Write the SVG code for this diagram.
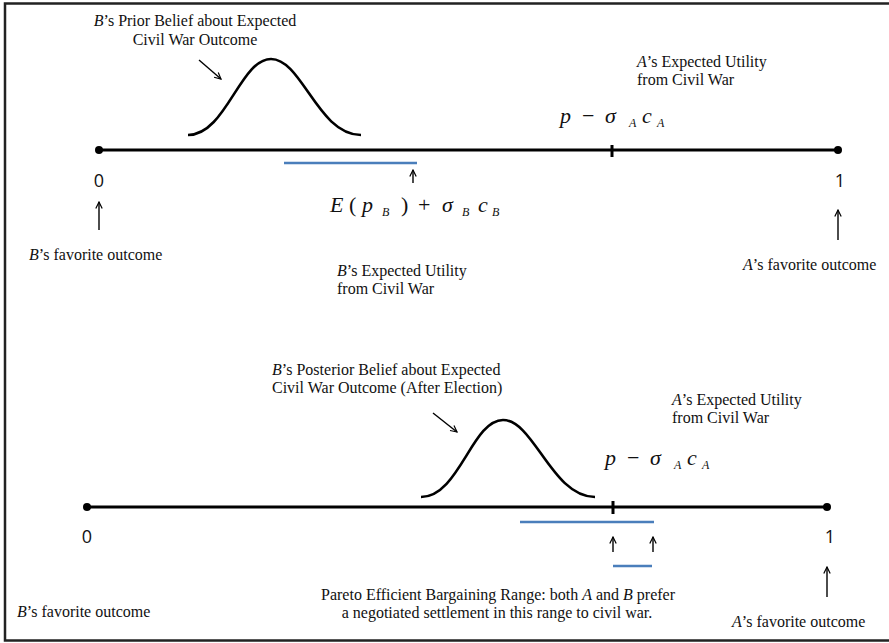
<svg xmlns="http://www.w3.org/2000/svg" width="889" height="643" viewBox="0 0 889 643">
<defs>
<style>
.t{font-family:"Liberation Serif","Times New Roman",Tinos,"DejaVu Serif","Noto Serif",serif;font-size:16px;fill:#111}
.i{font-style:italic}
.m{font-family:"Liberation Serif","Times New Roman",Tinos,"DejaVu Serif","Noto Serif",serif;font-style:italic;font-size:22px;fill:#111}
.s{font-size:12px}
.num{font-family:"Open Sans","Liberation Sans",sans-serif;font-size:18px;fill:#111;text-anchor:middle}
.ax{stroke:#000;stroke-width:3;fill:none}
.cv{stroke:#000;stroke-width:2.6;fill:none}
.bl{stroke:#4a7ebb;stroke-width:2.5;fill:none}
.ar{stroke:#000;stroke-width:1.4;fill:none;marker-end:url(#ah)}
</style>
<marker id="ah" viewBox="0 0 10 10" refX="9" refY="5" markerWidth="8" markerHeight="8" orient="auto" markerUnits="userSpaceOnUse">
<path d="M1,1 L9,5 L1,9" fill="none" stroke="#000" stroke-width="1.5"/>
</marker>
</defs>
<rect x="0" y="0" width="889" height="643" fill="#fff"/>
<rect x="5" y="3.5" width="900" height="637" fill="none" stroke="#222" stroke-width="2.5"/>

<g id="top-axis">
<line class="ax" x1="99" y1="150" x2="838" y2="150"/>
<circle cx="99" cy="150" r="4"/>
<circle cx="838" cy="150" r="4"/>
<line x1="612" y1="145" x2="612" y2="157" stroke="#000" stroke-width="3"/>
<text class="num" x="99" y="187">0</text>
<text class="num" x="840" y="187">1</text>
</g>

<g id="prior-curve">
<path class="cv" d="M188,135 C226,135 240,59 271,59 C302,59 318,135 361,135"/>
<text class="t" x="195" y="26" text-anchor="middle"><tspan class="i">B</tspan>’s Prior Belief about Expected</text>
<text class="t" x="195" y="45" text-anchor="middle">Civil War Outcome</text>
</g>

<g id="top-A-utility">
<text class="t" x="637" y="67"><tspan class="i">A</tspan>’s Expected Utility</text>
<text class="t" x="637" y="85">from Civil War</text>
<text class="m" y="123"><tspan x="560">p</tspan><tspan x="582" font-style="normal">−</tspan><tspan x="605">σ</tspan><tspan class="s" x="629" dy="4">A</tspan><tspan x="642" dy="-4">c</tspan><tspan class="s" x="657" dy="4">A</tspan></text>
</g>

<g id="top-B-utility">
<line class="bl" x1="284" y1="163" x2="417" y2="163"/>
<text class="m" y="212"><tspan x="330">E</tspan><tspan x="349" font-style="normal">(</tspan><tspan x="362">p</tspan><tspan class="s" x="382" dy="4">B</tspan><tspan x="401" dy="-4" font-style="normal">)</tspan><tspan x="418" font-style="normal">+</tspan><tspan x="442">σ</tspan><tspan class="s" x="462" dy="4">B</tspan><tspan x="478" dy="-4">c</tspan><tspan class="s" x="492" dy="4">B</tspan></text>
<text class="t" x="337" y="276"><tspan class="i">B</tspan>’s Expected Utility</text>
<text class="t" x="337" y="294">from Civil War</text>
</g>

<g id="top-B-fav">
<text class="t" x="29" y="260"><tspan class="i">B</tspan>’s favorite outcome</text>
</g>
<g id="top-A-fav">
<text class="t" x="743" y="270"><tspan class="i">A</tspan>’s favorite outcome</text>
</g>

<g id="bottom-axis">
<line class="ax" x1="87" y1="507" x2="827" y2="507"/>
<circle cx="87" cy="507" r="4"/>
<circle cx="827" cy="507" r="4"/>
<line x1="613" y1="501" x2="613" y2="514" stroke="#000" stroke-width="3"/>
<text class="num" x="87" y="543">0</text>
<text class="num" x="830" y="543">1</text>
</g>

<g id="posterior-curve">
<path class="cv" d="M421,497 C459,497 472,420 503,420 C534,420 552,497 595,497"/>
<text class="t" x="272" y="375"><tspan class="i">B</tspan>’s Posterior Belief about Expected</text>
<text class="t" x="272" y="393">Civil War Outcome (After Election)</text>
</g>

<g id="bottom-A-utility">
<text class="t" x="672" y="405"><tspan class="i">A</tspan>’s Expected Utility</text>
<text class="t" x="672" y="423">from Civil War</text>
<text class="m" y="465"><tspan x="605">p</tspan><tspan x="627" font-style="normal">−</tspan><tspan x="650">σ</tspan><tspan class="s" x="674" dy="4">A</tspan><tspan x="687" dy="-4">c</tspan><tspan class="s" x="702" dy="4">A</tspan></text>
</g>

<g id="bargaining-range">
<line class="bl" x1="520" y1="522" x2="654" y2="522"/>
<line class="bl" x1="613" y1="566" x2="652" y2="566"/>
<text class="t" x="498" y="600" text-anchor="middle">Pareto Efficient Bargaining Range: both <tspan class="i">A</tspan> and <tspan class="i">B</tspan> prefer</text>
<text class="t" x="497" y="618" text-anchor="middle">a negotiated settlement in this range to civil war.</text>
</g>

<g id="bottom-B-fav">
<text class="t" x="17" y="617"><tspan class="i">B</tspan>’s favorite outcome</text>
</g>
<g id="bottom-A-fav">
<text class="t" x="732" y="627"><tspan class="i">A</tspan>’s favorite outcome</text>
</g>

<g id="connectors">
<line class="ar" x1="199" y1="60" x2="221" y2="79"/>
<line class="ar" x1="99" y1="230" x2="99" y2="202"/>
<line class="ar" x1="838" y1="240" x2="838" y2="210"/>
<line class="ar" x1="413" y1="183" x2="413" y2="170"/>
<line class="ar" x1="433" y1="413" x2="457" y2="432"/>
<line class="ar" x1="613" y1="552" x2="613" y2="537"/>
<line class="ar" x1="653" y1="552" x2="653" y2="537"/>
<line class="ar" x1="827" y1="597" x2="827" y2="567"/>
</g>
</svg>
